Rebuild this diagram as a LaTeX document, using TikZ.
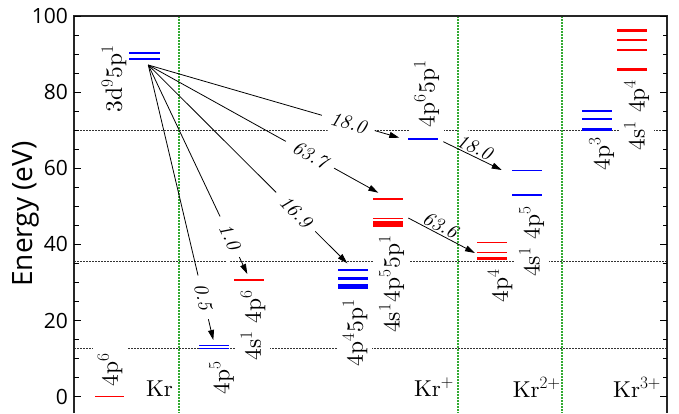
\documentclass[tikz,border=0pt]{standalone}
\usepackage{fontspec}
\newfontfamily\tickfont{Open Sans}
\newfontfamily\lmten{lmroman10-regular.otf}[ItalicFont=lmroman10-italic.otf]
\usetikzlibrary{arrows.meta}
\definecolor{sepgreen}{RGB}{50,170,50}
\newcommand{\sps}[1]{$^{#1}$\kern1pt}
\begin{document}
\begin{tikzpicture}[x=1pt,y=1pt,
  axisline/.style={line width=1.3pt, draw=black!85},
  hdot/.style={dash pattern=on 1.5pt off 1.5pt, line width=0.9pt, draw=black!80},
  vdot/.style={dash pattern=on 2pt off 1pt, line width=1.1pt, draw=sepgreen},
  lvR/.style={draw=red, line width=1.5pt},
  lvB/.style={draw=blue, line width=1.5pt},
  lvlab/.style={rotate=90, fill=white, inner sep=5pt, font=\lmten\fontsize{23.5}{23.5}\selectfont},
  ionlab/.style={inner sep=0pt, font=\lmten\fontsize{23}{23}\selectfont},
  ticklab/.style={inner sep=0pt, font=\tickfont\fontsize{21}{21}\selectfont},
  trlab/.style={sloped, fill=white, inner xsep=9pt, inner ysep=6pt, font=\lmten\fontsize{20}{20}\selectfont\itshape},
  trlabup/.style={sloped, above=-4pt, fill=white, inner xsep=3pt, inner ysep=5.5pt, font=\lmten\fontsize{20}{20}\selectfont\itshape},
  trans/.style={line width=0.8pt},
  arr/.style={line width=0.8pt, -{Triangle[length=10pt,width=6pt]}},
]
\useasboundingbox (0,0) rectangle (679,-413);

% horizontal dotted reference lines
\draw[hdot] (74,-130) -- (667,-130);
\draw[hdot] (74,-261) -- (667,-261);
\draw[hdot] (74,-348.7) -- (667,-348.7);

% level labels (white boxes hide the dotted lines)
\node[lvlab] (L1) at (110,-370) {4p$^6$};
\node[lvlab] (L2) at (114,-79) {3d\sps{9}5p$^1$};
\node[lvlab] (L3) at (221.5,-377.5) {4p$^5$};
\node[lvlab] (L4) at (253,-325) {4s$^1$ 4p$^6$};
\node[lvlab] (L5) at (355,-332.5) {4p\sps{4}5p$^1$};
\node[lvlab] (L6) at (391.7,-284) {4s\sps{1}4p\sps{5}5p$^1$};
\node[lvlab] (L7) at (426.7,-94) {4p\sps{6}5p$^1$};
\node[lvlab] (L8) at (500,-285.5) {4p$^4$};
\node[lvlab] (L9) at (531.7,-241.5) {4s$^1$ 4p$^5$};
\node[lvlab] (L10) at (601.7,-154) {4p$^3$};
\node[lvlab] (L11) at (636.7,-115) {4s$^1$ 4p$^4$};

\node[ionlab] (I0) at (159.5,-389) {Kr};
\node[ionlab] (I1) at (434,-387) {Kr$^+$};
\node[ionlab] (I2) at (536.7,-387) {Kr$^{2+}$};
\node[ionlab] (I3) at (637,-387) {Kr$^{3+}$};

% transitions: points
\coordinate (S) at (148.3,-65);
\coordinate (T1) at (213.3,-340);
\coordinate (T2) at (247.3,-274);
\coordinate (T3) at (347.3,-263.3);
\coordinate (T4) at (378.3,-192.7);
\coordinate (T5) at (399.3,-137.7);
\coordinate (A6) at (408.3,-218);
\coordinate (B6) at (475,-253);
\coordinate (A7) at (443.3,-141.7);
\coordinate (B7) at (501.7,-170);

\path (S) -- (T1) node[trlab, pos=0.845] (t1) {0.5};
\path (S) -- (T2) node[trlab, pos=0.822] (t2) {1.0};
\path (S) -- (T3) node[trlab, pos=0.741] (t3) {16.9};
\path (S) -- (T4) node[trlab, pos=0.703] (t4) {63.7};
\path (S) -- (T5) node[trlab, pos=0.797] (t5) {18.0};
\path (A6) -- (B6) node[trlabup, pos=0.42] (t6) {63.6};
\path (A7) -- (B7) node[trlabup, pos=0.47] (t7) {18.0};

% green separators
\draw[vdot] (179,-16) -- (179,-413);
\draw[vdot] (458,-16) -- (458,-413);
\draw[vdot] (562,-16) -- (562,-413);

% levels
\draw[lvR] (95,-396.7) -- (124,-396.7);
\draw[lvB, line width=2pt] (129,-53.3) -- (160,-53.3);
\draw[lvB, line width=2pt] (129,-59) -- (160,-59);
\draw[lvB, line width=1.3pt] (199,-345.5) -- (229,-345.5);
\draw[lvB, line width=1.3pt] (199,-348.5) -- (229,-348.5);
\draw[lvR] (234,-280) -- (264,-280);
\draw[lvB, line width=1.2pt] (338,-270) -- (368,-270);
\draw[lvB, line width=2.7pt] (338,-278.7) -- (368,-278.7);
\draw[lvB, line width=5.3pt] (338,-286.7) -- (368,-286.7);
\draw[lvR, line width=1.8pt] (373,-199) -- (403,-199);
\draw[lvR, line width=1.2pt] (373,-218.8) -- (403,-218.8);
\draw[lvR, line width=6pt] (373,-223.7) -- (403,-223.7);
\draw[lvB] (408,-139) -- (438,-139);
\draw[lvR, line width=1.3pt] (477,-242.5) -- (507,-242.5);
\draw[lvR, line width=1.3pt] (477,-252.5) -- (507,-252.5);
\draw[lvR, line width=3.2pt] (477,-258.2) -- (507,-258.2);
\draw[lvB, line width=1.3pt] (512,-170.7) -- (542,-170.7);
\draw[lvB, line width=2.8pt] (512,-195) -- (542,-195);
\foreach \y in {110.7,119.3,129.5} \draw[lvB, line width=2.2pt] (582,-\y) -- (612,-\y);
\draw[lvR, line width=3.4pt] (617,-30.4) -- (647,-30.4);
\draw[lvR, line width=1.3pt] (617,-40) -- (647,-40);
\draw[lvR, line width=1.5pt] (617,-50) -- (647,-50);
\draw[lvR, line width=2.8pt] (617,-69.5) -- (647,-69.5);

% transition lines
\draw[trans] (S) -- (t1); \draw[arr] (t1) -- (T1);
\draw[trans] (S) -- (t2); \draw[arr] (t2) -- (T2);
\draw[trans] (S) -- (t3); \draw[arr] (t3) -- (T3);
\draw[trans] (S) -- (t4); \draw[arr] (t4) -- (T4);
\draw[trans] (S) -- (t5); \draw[arr] (t5) -- (T5);
\draw[arr] (A6) -- (B6);
\draw[arr] (A7) -- (B7);

% axes
\draw[axisline] (74,-413) -- (74,-16) -- (667,-16) -- (667,-413);
\foreach \e in {0,5,...,100} {
  \draw[line width=0.9pt] (74,{3.807*\e-396.7}) -- (78.5,{3.807*\e-396.7});
  \draw[line width=0.9pt] (667,{3.807*\e-396.7}) -- (662.5,{3.807*\e-396.7});
}
\foreach \e in {0,20,...,100} {
  \draw[line width=0.9pt] (74,{3.807*\e-396.7}) -- (81,{3.807*\e-396.7});
  \draw[line width=0.9pt] (667,{3.807*\e-396.7}) -- (660,{3.807*\e-396.7});
  \node[ticklab, anchor=east] at (68,{3.807*\e-396.7}) {\e};
}
\node[rotate=90, inner sep=0pt, font=\tickfont\fontsize{28}{28}\selectfont] (ylab) at (26,-214) {Energy (eV)};
\end{tikzpicture}
\end{document}
